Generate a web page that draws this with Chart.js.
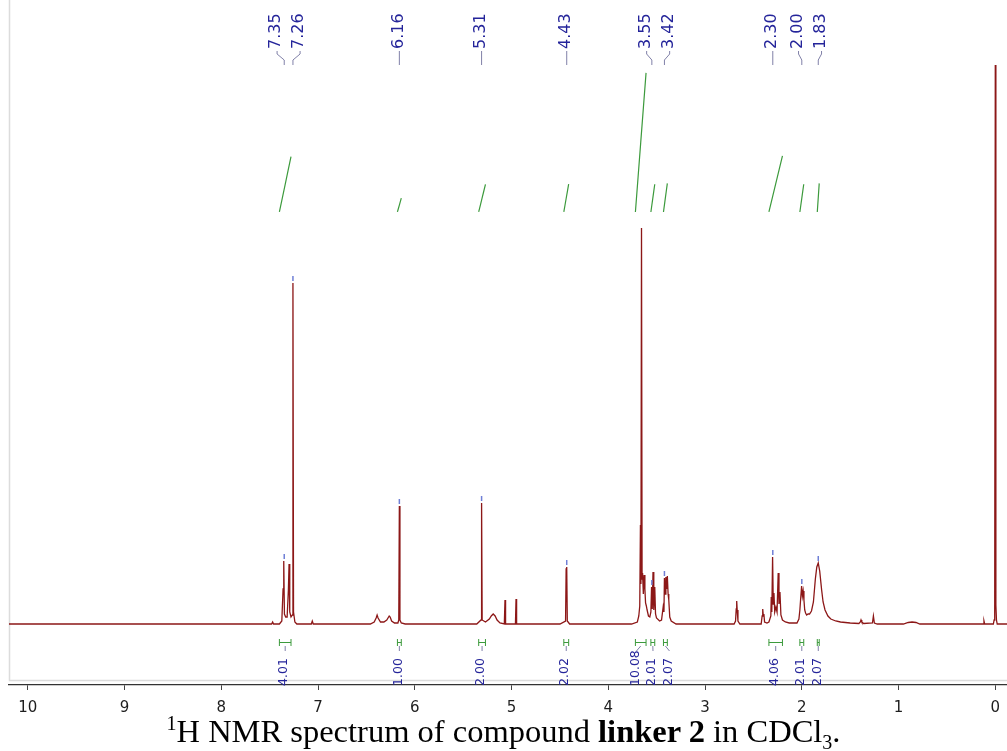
<!DOCTYPE html>
<html>
<head>
<meta charset="utf-8">
<script src="https://cdn.jsdelivr.net/npm/chart.js@4.4.1/dist/chart.umd.min.js"></script>
<style>
  html, body { margin: 0; padding: 0; background: #fff; }
  #wrap { position: relative; width: 1007px; height: 751px; overflow: hidden; }
  #nmr { position: absolute; left: 0; top: 0; }
  #caption {
    position: absolute; left: 0; top: 715px; width: 1007px;
    text-align: center; color: #000;
    font-family: "Liberation Serif", "Times New Roman", serif;
    font-size: 32.5px; line-height: 32px; white-space: nowrap;
  }
  #caption sup { font-size: 20px; vertical-align: 0; position: relative; top: -12px; }
  #caption sub { font-size: 20px; vertical-align: 0; position: relative; top: 7px; }
</style>
</head>
<body>
<div id="wrap">
  <canvas id="nmr" width="1007" height="716"></canvas>
  <div id="caption"><sup>1</sup>H NMR spectrum of compound <b>linker 2</b> in CDCl<sub>3</sub>.</div>
</div>
<script>
// spectrum: [ppm, intensity]
const spectrum = [
  [10.2, 0], [7.60, 0], [7.48, 0], [7.47, 2], [7.46, 0],
  [7.40, 0], [7.375, 3], [7.362, 35], [7.355, 63], [7.348, 10], [7.335, 7], [7.32, 7],
  [7.307, 34], [7.300, 60], [7.293, 12], [7.28, 7], [7.266, 9], [7.260, 341], [7.254, 12],
  [7.24, 2], [7.22, 0], [7.07, 0], [7.06, 3], [7.05, 0],
  [6.46, 0], [6.42, 2], [6.40, 6], [6.39, 9], [6.38, 6], [6.355, 2], [6.32, 2], [6.29, 4],
  [6.265, 8], [6.255, 7], [6.24, 3], [6.21, 1], [6.175, 1], [6.166, 4], [6.160, 118],
  [6.154, 4], [6.14, 1], [6.10, 0],
  [5.36, 0], [5.316, 4], [5.310, 121], [5.304, 4], [5.27, 2], [5.23, 5], [5.21, 8],
  [5.19, 10], [5.17, 8], [5.15, 4], [5.12, 1], [5.075, 0], [5.068, 24], [5.062, 0],
  [4.96, 0], [4.954, 25], [4.948, 0],
  [4.50, 0], [4.442, 3], [4.436, 55], [4.430, 57], [4.424, 3], [4.40, 0],
  [3.76, 0], [3.70, 2], [3.685, 8], [3.675, 18], [3.668, 99], [3.663, 40], [3.657, 396],
  [3.651, 45], [3.646, 51], [3.638, 30], [3.630, 49], [3.622, 35], [3.615, 21], [3.607, 18],
  [3.599, 14], [3.585, 8], [3.571, 7], [3.560, 12], [3.553, 37], [3.546, 15], [3.538, 52],
  [3.530, 14], [3.520, 37], [3.512, 10], [3.502, 6], [3.47, 3], [3.450, 4], [3.433, 17],
  [3.425, 12], [3.420, 46], [3.412, 30], [3.405, 47], [3.398, 35], [3.390, 48], [3.382, 30],
  [3.375, 24], [3.365, 7], [3.35, 3], [3.30, 0],
  [2.70, 0], [2.685, 3], [2.678, 15], [2.673, 23], [2.668, 14], [2.660, 3], [2.64, 0],
  [2.42, 0], [2.410, 8], [2.404, 15], [2.398, 8], [2.392, 10], [2.385, 2], [2.36, 1],
  [2.34, 2], [2.32, 8], [2.316, 27], [2.310, 12], [2.302, 67], [2.295, 20], [2.288, 31],
  [2.280, 12], [2.268, 17], [2.256, 12], [2.244, 51], [2.236, 20], [2.226, 32], [2.216, 9],
  [2.20, 4], [2.17, 2], [2.13, 1], [2.05, 1], [2.03, 5], [2.020, 14], [2.012, 25],
  [2.002, 38], [1.994, 28], [1.986, 33], [1.978, 24], [1.970, 14], [1.961, 11], [1.950, 9],
  [1.935, 10], [1.92, 10], [1.90, 13], [1.88, 22], [1.86, 45], [1.845, 57], [1.830, 61],
  [1.815, 53], [1.795, 34], [1.78, 22], [1.76, 14], [1.73, 8], [1.70, 5], [1.65, 3],
  [1.60, 2], [1.50, 1], [1.41, 0.5], [1.395, 2], [1.388, 4], [1.380, 2], [1.36, 0.5],
  [1.27, 1], [1.26, 8], [1.25, 1], [1.22, 0],
  [0.95, 0], [0.90, 1.5], [0.86, 2], [0.82, 1.5], [0.78, 0],
  [0.125, 0], [0.117, 3], [0.11, 0],
  [0.02, 0], [0.012, 4], [0.006, 19], [0.000, 559], [-0.006, 19], [-0.012, 4], [-0.02, 0],
  [-0.13, 0]
];

// picked peaks (labels at the top) and their heights
const peakLabels = ['7.35', '7.26', '6.16', '5.31', '4.43', '3.55', '3.42', '2.30', '2.00', '1.83'];
const peakTops = [63, 341, 118, 121, 57, 37, 46, 67, 38, 61];

// integrals
const integStart = [7.40, 6.18, 5.34, 4.46, 3.72, 3.56, 3.43, 2.34, 2.02, 1.84];
const integEnd = [7.28, 6.14, 5.27, 4.41, 3.61, 3.52, 3.39, 2.20, 1.98, 1.82];
const integValue = ['4.01', '1.00', '2.00', '2.02', '10.08', '2.01', '2.07', '4.06', '2.01', '2.07'];

const axisTicks = [10, 9, 8, 7, 6, 5, 4, 3, 2, 1, 0];

const integColor = '#3c9a3c';
const labelColor = '#24249a';
const leaderColor = '#8080a8';

// push overlapping labels apart, keeping each cluster centred
function spread(xs, gap) {
  let groups = xs.map((x, i) => ({ items: [i], center: x }));
  let changed = true;
  while (changed) {
    changed = false;
    for (let g = 0; g < groups.length - 1; g++) {
      const a = groups[g], b = groups[g + 1];
      const aEnd = a.center + (a.items.length - 1) * gap / 2;
      const bStart = b.center - (b.items.length - 1) * gap / 2;
      if (bStart - aEnd < gap) {
        const items = a.items.concat(b.items);
        const center = items.reduce((s, i) => s + xs[i], 0) / items.length;
        groups.splice(g, 2, { items, center });
        changed = true;
        break;
      }
    }
  }
  const out = [];
  groups.forEach(g => g.items.forEach((i, k) => {
    out[i] = g.center + (k - (g.items.length - 1) / 2) * gap;
  }));
  return out;
}

const nmrDecor = {
  id: 'nmrDecor',
  beforeDatasetsDraw(chart) {
    const { ctx, chartArea: a } = chart;
    ctx.save();
    ctx.strokeStyle = '#dcdcdc';
    ctx.lineWidth = 1.5;
    ctx.beginPath();
    ctx.moveTo(a.left + 0.5, a.top);
    ctx.lineTo(a.left + 0.5, a.bottom - 4.5);
    ctx.lineTo(a.right, a.bottom - 4.5);
    ctx.stroke();
    ctx.restore();
  },
  afterDatasetsDraw(chart) {
    const { ctx } = chart;
    const x = chart.scales.x, y = chart.scales.y;
    ctx.save();

    // peak-pick marks above the picked peaks
    ctx.strokeStyle = '#6f7fd6';
    ctx.lineWidth = 1.5;
    peakLabels.forEach((p, i) => {
      const px = x.getPixelForValue(parseFloat(p));
      const py = y.getPixelForValue(peakTops[i]);
      ctx.beginPath();
      ctx.moveTo(px, py - 2);
      ctx.lineTo(px, py - 7);
      ctx.stroke();
    });

    // shift labels at the top
    const peakX = peakLabels.map(p => x.getPixelForValue(parseFloat(p)));
    const labelX = spread(peakX, 23);
    ctx.font = '16px "DejaVu Sans", Verdana, sans-serif';
    peakLabels.forEach((p, i) => {
      ctx.strokeStyle = leaderColor;
      ctx.lineWidth = 1;
      ctx.beginPath();
      ctx.moveTo(labelX[i], 51);
      ctx.lineTo(labelX[i], 54);
      ctx.lineTo(peakX[i], 60);
      ctx.lineTo(peakX[i], 65);
      ctx.stroke();
      ctx.save();
      ctx.translate(labelX[i] - 1, 49);
      ctx.rotate(-Math.PI / 2);
      ctx.fillStyle = labelColor;
      ctx.textAlign = 'left';
      ctx.textBaseline = 'middle';
      ctx.fillText(p, 0, 0);
      ctx.restore();
    });

    // integral brackets and values under the baseline
    const midX = integStart.map((s, i) => x.getPixelForValue((s + integEnd[i]) / 2));
    const valX = spread(midX, 16.5);
    ctx.font = '12.5px "DejaVu Sans", Verdana, sans-serif';
    integStart.forEach((s, i) => {
      const x1 = x.getPixelForValue(s), x2 = x.getPixelForValue(integEnd[i]);
      ctx.strokeStyle = integColor;
      ctx.lineWidth = 1;
      ctx.beginPath();
      ctx.moveTo(x1, 642.5); ctx.lineTo(x2, 642.5);
      ctx.moveTo(x1, 639); ctx.lineTo(x1, 646);
      ctx.moveTo(x2, 639); ctx.lineTo(x2, 646);
      ctx.stroke();
      ctx.strokeStyle = leaderColor;
      ctx.beginPath();
      ctx.moveTo(midX[i], 646);
      ctx.lineTo(valX[i], 651);
      ctx.stroke();
      ctx.save();
      ctx.translate(valX[i] - 1, 686);
      ctx.rotate(-Math.PI / 2);
      ctx.fillStyle = labelColor;
      ctx.textAlign = 'left';
      ctx.textBaseline = 'middle';
      ctx.fillText(integValue[i], 0, 0);
      ctx.restore();
    });
    ctx.restore();
  }
};

const datasets = [{
  data: spectrum.map(([p, v]) => ({ x: p, y: v })),
  borderColor: '#8c1717',
  borderWidth: 1.3,
  pointRadius: 0,
  tension: 0,
  yAxisID: 'y'
}];

integStart.forEach((s, i) => {
  const v = parseFloat(integValue[i]);
  const e = integEnd[i];
  datasets.push({
    data: [{ x: s, y: 0 }, { x: (s + e) / 2, y: v / 2 }, { x: e, y: v }],
    borderColor: integColor,
    borderWidth: 1.2,
    pointRadius: 0,
    tension: 0.4,
    yAxisID: 'yInt'
  });
});

new Chart(document.getElementById('nmr').getContext('2d'), {
  type: 'line',
  data: { datasets },
  plugins: [nmrDecor],
  options: {
    responsive: false,
    animation: false,
    events: [],
    layout: { padding: { left: 9, right: 0, top: 0, bottom: 0 } },
    plugins: { legend: { display: false }, tooltip: { enabled: false } },
    scales: {
      x: {
        type: 'linear',
        reverse: true,
        min: -0.121,
        max: 10.195,
        afterBuildTicks: scale => { scale.ticks = axisTicks.map(v => ({ value: v })); },
        afterFit: scale => {
          scale.height = 31;
          scale.paddingLeft = 0;
          scale.paddingRight = 0;
        },
        grid: { display: true, drawOnChartArea: false, drawTicks: true, tickLength: 5, color: '#444' },
        border: { display: true, color: '#333', width: 1.3 },
        ticks: {
          padding: 9,
          color: '#1e1e1e',
          maxRotation: 0,
          autoSkip: false,
          font: { family: '"DejaVu Sans", Verdana, sans-serif', size: 15 },
          callback: v => String(v)
        }
      },
      y: { display: false, min: -61, max: 624 },
      yInt: { display: false, min: -34.28, max: 15.36 }
    }
  }
});
</script>
</body>
</html>
